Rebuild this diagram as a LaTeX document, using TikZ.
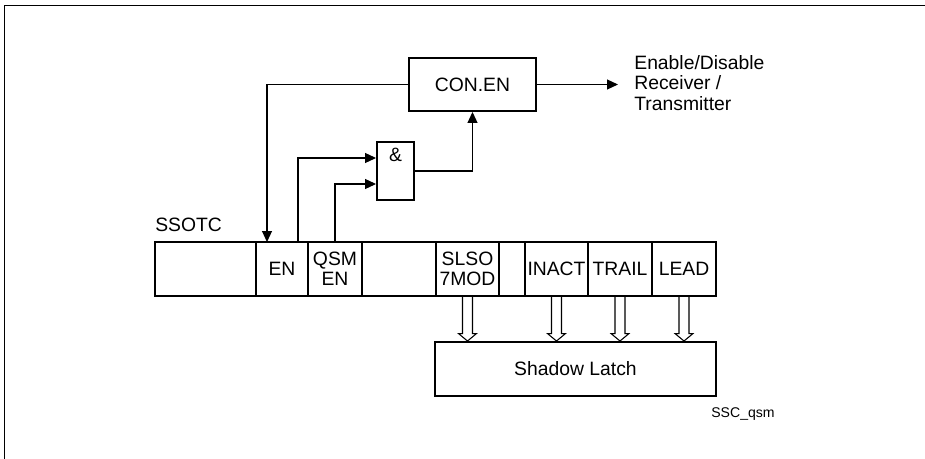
\documentclass[tikz,border=0pt]{standalone}
\usepackage{fontspec}
\setmainfont{Liberation Sans}
\usetikzlibrary{positioning,arrows.meta,calc}

\begin{document}
\begin{tikzpicture}[
    box/.style={draw, line width=1.1pt, minimum height=1.06cm, align=center, font=\fontsize{11}{11.5}\selectfont},
    cell/.style={draw, line width=1.1pt, outer sep=0pt, minimum height=1.08cm, inner sep=1pt, align=center, font=\fontsize{11}{11.5}\selectfont},
    arrow/.style={-{Triangle[length=0.22cm, width=0.2cm]}, line width=0.6pt},
    busarrow/.style={line width=0.6pt, line join=miter}
]
\useasboundingbox (0,0) rectangle (18.5,-9.18);

% Frame
\draw[line width=0.8pt] (0.09,-9.18) -- (0.09,-0.11) -- (18.5,-0.11);

% Register cells
\node[cell, minimum width=2.02cm] (r0) at (4.11,-5.38) {};
\node[cell, minimum width=1.04cm, right=0pt of r0] (en) {EN};
\node[cell, minimum width=1.08cm, right=0pt of en] (qsm) {QSM\\EN};
\node[cell, minimum width=1.48cm, right=0pt of qsm] (r3) {};
\node[cell, minimum width=1.26cm, right=0pt of r3] (slso) {SLSO\\7MOD};
\node[cell, minimum width=0.52cm, right=0pt of slso] (r5) {};
\node[cell, minimum width=1.26cm, right=0pt of r5] (inact) {INACT};
\node[cell, minimum width=1.28cm, right=0pt of inact] (trail) {TRAIL};
\node[cell, minimum width=1.28cm, right=0pt of trail] (lead) {LEAD};
\node[above right=0.2cm and 0pt of r0.north west, anchor=south west, inner sep=0pt, font=\fontsize{11}{11.5}\selectfont] (ssotc) {SSOTC};

% Control logic
\node[box, minimum width=2.54cm] (conen) at (9.45,-1.69) {CON.EN};
\node[draw, line width=1.1pt, minimum width=0.74cm, minimum height=1.16cm,
      label={[anchor=north, inner ysep=4pt, font=\fontsize{11}{11.5}\selectfont]north:\&}] (gate) at (7.91,-3.42) {};
\node[anchor=west, inner xsep=0.32cm, align=left, font=\fontsize{11}{11.5}\selectfont] (enable) at (12.36,-1.66) {Enable/Disable\\Receiver /\\Transmitter};

% Shadow latch
\node[box, minimum width=5.62cm, minimum height=1.08cm] (latch) at (11.51,-7.38) {Shadow Latch};
\node[anchor=west, inner sep=0pt, font=\fontsize{8}{9}\selectfont] (ref) at (14.22,-8.28) {SSC\_qsm};

% Arrows
\draw[arrow] (conen.west) -| ($(en.north)+(-0.3,0)$);
\draw[arrow] ($(en.north)+(0.32,0)$) |- ($(gate.west)+(0,0.26)$);
\draw[arrow] (qsm.north) |- ($(gate.west)+(0,-0.26)$);
\draw[arrow] (gate.east) -| (conen.south);
\draw[arrow] (conen.east) -- (conen.east -| enable.west);

% Bus arrows into the latch
\foreach \c in {slso,inact,trail,lead} {
    \coordinate (tip) at (\c.south |- latch.north);
    \draw[busarrow] ($(\c.south)+(-0.1,0)$) -- ($(tip)+(-0.1,0.15)$) -- ($(tip)+(-0.18,0.15)$) -- (tip)
        -- ($(tip)+(0.18,0.15)$) -- ($(tip)+(0.1,0.15)$) -- ($(\c.south)+(0.1,0)$);
}
\end{tikzpicture}
\end{document}
